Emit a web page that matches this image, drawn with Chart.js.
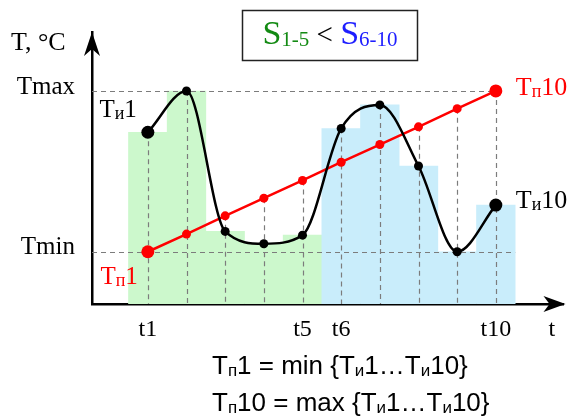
<!DOCTYPE html>
<html>
<head>
<meta charset="utf-8">
<title>T(t)</title>
<script src="https://cdn.jsdelivr.net/npm/chart.js@4.4.1/dist/chart.umd.min.js"></script>
<style>
  html, body { margin: 0; padding: 0; background: #fff; }
  #wrap { width: 570px; height: 419px; }
</style>
</head>
<body>
<div id="wrap"><canvas id="tempChart" width="570" height="419"></canvas></div>
<script>
// moments t1..t10
const timeIdx = [1, 2, 3, 4, 5, 6, 7, 8, 9, 10];
// measured temperatures Ти1..Ти10
const measured = [32.3, 40, 13.8, 11.5, 13.1, 33.0, 37.4, 26.0, 10, 18.7];
// ordered temperatures Тп1..Тп10 (min .. max)
const ordered = [10, 13.3, 16.7, 20, 23.3, 26.7, 30, 33.3, 36.7, 40];
// tick labels
const xTickVals = [1, 5, 6, 10, 11.45];
const xTickLabels = ['t1', 't5', 't6', 't10', 't'];
const yTickVals = [10, 40];
const yTickLabels = ['Tmin', 'Tmax'];

const SERIF = '"Liberation Serif", "DejaVu Serif", serif';
const SANS = '"Liberation Sans", Arial, sans-serif';
const GREEN_BAR = '#ccf8cc';
const BLUE_BAR = '#c9edfb';

// draws text pieces one after another: [text, size, dy, color]
function textRuns(ctx, x, y, parts, family, color) {
  parts.forEach(p => {
    ctx.font = p[1] + 'px ' + family;
    ctx.fillStyle = p[3] || color;
    ctx.fillText(p[0], x, y + (p[2] || 0));
    x += ctx.measureText(p[0]).width;
  });
  return x;
}
function runsWidth(ctx, parts, family) {
  let w = 0;
  parts.forEach(p => { ctx.font = p[1] + 'px ' + family; w += ctx.measureText(p[0]).width; });
  return w;
}

const sketchPlugin = {
  id: 'sketch',
  afterDatasetDraw(chart, args) {
    if (args.index !== 0) return; // right after the bars
    const ctx = chart.ctx, xs = chart.scales.x, ys = chart.scales.y;
    ctx.save();
    ctx.setLineDash([5, 4]);
    ctx.strokeStyle = '#7c7c7c';
    ctx.lineWidth = 1.2;
    ctx.beginPath();
    timeIdx.forEach((t, i) => {
      const x = Math.round(xs.getPixelForValue(t)) + 0.5;
      ctx.moveTo(x, ys.getPixelForValue(Math.max(measured[i], ordered[i])));
      ctx.lineTo(x, ys.bottom);
    });
    const yMax = Math.round(ys.getPixelForValue(Math.max(...measured))) + 0.5;
    const yMin = Math.round(ys.getPixelForValue(Math.min(...measured))) + 0.5;
    ctx.moveTo(xs.left, yMax);
    ctx.lineTo(xs.getPixelForValue(timeIdx[timeIdx.length - 1]), yMax);
    ctx.moveTo(xs.left, yMin);
    ctx.lineTo(xs.getPixelForValue(timeIdx[timeIdx.length - 1] + 0.5), yMin);
    ctx.stroke();
    ctx.restore();
  },
  afterDraw(chart) {
    const ctx = chart.ctx, xs = chart.scales.x, ys = chart.scales.y;
    const area = chart.chartArea;
    ctx.save();
    // arrow heads
    ctx.fillStyle = '#000';
    ctx.beginPath();
    ctx.moveTo(area.left, area.top);
    ctx.lineTo(area.left - 8, area.top + 24);
    ctx.lineTo(area.left, area.top + 17);
    ctx.lineTo(area.left + 8, area.top + 24);
    ctx.closePath();
    ctx.fill();
    ctx.beginPath();
    ctx.moveTo(area.right + 2, area.bottom);
    ctx.lineTo(area.right - 20, area.bottom - 8);
    ctx.lineTo(area.right - 14, area.bottom);
    ctx.lineTo(area.right - 20, area.bottom + 8);
    ctx.closePath();
    ctx.fill();

    ctx.textBaseline = 'alphabetic';
    ctx.textAlign = 'left';
    // axis name
    ctx.font = '26px ' + SERIF;
    ctx.fillStyle = '#000';
    ctx.fillText('T, °C', 11, 50);

    // point labels
    const n = timeIdx.length - 1;
    const px = i => xs.getPixelForValue(timeIdx[i]);
    const lblI1 = [['T', 25], ['и', 18, 2], ['1', 25]];
    const lblI10 = [['T', 26], ['и', 18, 2], ['10', 26]];
    const lblP1 = [['T', 25], ['п', 18, 2], ['1', 25]];
    const lblP10 = [['T', 26], ['п', 18, 2], ['10', 26]];
    let x0 = px(0), y1 = ys.getPixelForValue(measured[0]);
    textRuns(ctx, x0 - 11 - runsWidth(ctx, lblI1, SERIF), y1 - 15, lblI1, SERIF, '#000');
    textRuns(ctx, px(n) + 20, ys.getPixelForValue(measured[n]) + 3, lblI10, SERIF, '#000');
    textRuns(ctx, x0 - 10 - runsWidth(ctx, lblP1, SERIF), ys.getPixelForValue(ordered[0]) + 32, lblP1, SERIF, '#f00');
    textRuns(ctx, px(n) + 20, ys.getPixelForValue(ordered[n]) + 4, lblP10, SERIF, '#f00');

    // S1-5 < S6-10 box
    ctx.strokeStyle = '#222';
    ctx.lineWidth = 1.5;
    ctx.strokeRect(242.5, 10.5, 175, 50);
    const title = [['S', 34, 0, '#138a13'], ['1-5', 21, 2, '#138a13'], [' < ', 29, 0, '#000'],
                   ['S', 34, 0, '#1e1eff'], ['6-10', 21, 2, '#1e1eff']];
    const tw = runsWidth(ctx, title, SERIF);
    textRuns(ctx, 330 - tw / 2, 44, title, SERIF, '#000');

    // formulas
    textRuns(ctx, 212, 374, [['T', 26], ['п', 17, 2], ['1 = min {T', 26], ['и', 17, 2], ['1…T', 26], ['и', 17, 2], ['10}', 26]], SANS, '#000');
    textRuns(ctx, 212, 411, [['T', 26], ['п', 17, 2], ['10 = max {T', 26], ['и', 17, 2], ['1…T', 26], ['и', 17, 2], ['10}', 26]], SANS, '#000');
    ctx.restore();
  }
};

const ctx = document.getElementById('tempChart').getContext('2d');
const endRadius = (big, small) => timeIdx.map((t, i) => (i === 0 || i === timeIdx.length - 1) ? big : small);

const chart = new Chart(ctx, {
  type: 'bar',
  data: {
    datasets: [
      {
        type: 'bar',
        data: timeIdx.map((t, i) => ({ x: t, y: measured[i] })),
        backgroundColor: timeIdx.map(t => t <= 5 ? GREEN_BAR : BLUE_BAR),
        borderWidth: 0,
        categoryPercentage: 1,
        barPercentage: 1,
        order: 3
      },
      {
        type: 'line',
        data: timeIdx.map((t, i) => ({ x: t, y: ordered[i] })),
        borderColor: '#ff0000',
        backgroundColor: '#ff0000',
        borderWidth: 2.5,
        tension: 0,
        pointRadius: endRadius(6.5, 4.5),
        pointBorderWidth: 0,
        order: 2
      },
      {
        type: 'line',
        data: timeIdx.map((t, i) => ({ x: t, y: measured[i] })),
        borderColor: '#000',
        backgroundColor: '#000',
        borderWidth: 2.5,
        cubicInterpolationMode: 'monotone',
        pointRadius: endRadius(6.5, 4.5),
        pointBorderWidth: 0,
        order: 1
      }
    ]
  },
  options: {
    responsive: false,
    animation: false,
    layout: { padding: { top: 28, right: 4, left: 0, bottom: 0 } },
    plugins: { legend: { display: false }, tooltip: { enabled: false } },
    scales: {
      x: {
        type: 'linear',
        offset: false,
        min: -0.444,
        max: 11.75,
        grid: { display: false, drawTicks: false },
        border: { display: true, color: '#000', width: 2.5 },
        afterBuildTicks: s => { s.ticks = xTickVals.map(v => ({ value: v })); },
        afterFit: s => { s.height = 115; },
        ticks: {
          autoSkip: false,
          maxRotation: 0,
          padding: 11,
          color: '#000',
          font: { family: SERIF, size: 24 },
          callback: (v, i) => xTickLabels[i]
        }
      },
      y: {
        min: 0.25,
        max: 51,
        grid: { display: false, drawTicks: false },
        border: { display: true, color: '#000', width: 2.5 },
        afterBuildTicks: s => { s.ticks = yTickVals.map(v => ({ value: v })); },
        afterFit: s => { s.width = 92; },
        ticks: {
          padding: 17,
          labelOffset: -4,
          color: '#000',
          font: { family: SERIF, size: 25 },
          callback: (v, i) => yTickLabels[i]
        }
      }
    }
  },
  plugins: [sketchPlugin]
});
</script>
</body>
</html>
